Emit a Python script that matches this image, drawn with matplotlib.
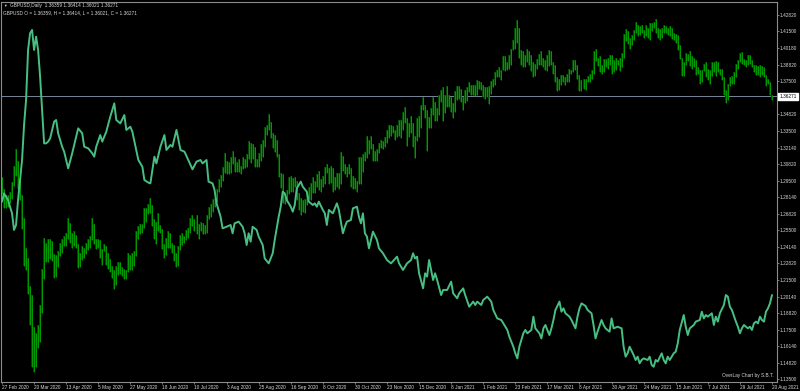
import matplotlib
matplotlib.use("Agg")
import matplotlib.pyplot as plt
import numpy as np

plt.rcParams['font.family'] = ['Liberation Sans', 'DejaVu Sans']

# ---------------- data ----------------
header_1 = "GBPUSD,Daily  1.36359 1.36414 1.36021 1.36271"
header_2 = "GBPUSD O = 1.36359, H = 1.36414, L = 1.36021, C = 1.36271"
footer = "OverLay Chart by S.B.T."
last_close = 1.36271

date_labels = ["27 Feb 2020", "20 Mar 2020", "13 Apr 2020", "5 May 2020", "27 May 2020",
               "18 Jun 2020", "10 Jul 2020", "3 Aug 2020", "25 Aug 2020", "16 Sep 2020",
               "8 Oct 2020", "30 Oct 2020", "23 Nov 2020", "15 Dec 2020", "8 Jan 2021",
               "1 Feb 2021", "23 Feb 2021", "17 Mar 2021", "8 Apr 2021", "30 Apr 2021",
               "24 May 2021", "15 Jun 2021", "7 Jul 2021", "29 Jul 2021", "20 Aug 2021"]
date_label_bars = list(range(0, 385, 16))

price_ticks = [1.42820, 1.41500, 1.40180, 1.38820, 1.37500, 1.34820, 1.33500, 1.32140,
               1.30820, 1.29500, 1.28140, 1.26820, 1.25500, 1.24140, 1.22820, 1.21500,
               1.20140, 1.18820, 1.17500, 1.16140, 1.14820, 1.13500]

highs = [
    1.2975, 1.2880, 1.2830, 1.2830, 1.2855, 1.2935, 1.3070, 1.3200, 1.3110, 1.2960, 1.2830, 1.2650, 1.2410, 1.2330, 1.2100, 1.2030,
    1.1770, 1.1720, 1.1790, 1.1950, 1.2240, 1.2485, 1.2450, 1.2480, 1.2480, 1.2460, 1.2360, 1.2350, 1.2380, 1.2450, 1.2480, 1.2500,
    1.2530, 1.2648, 1.2610, 1.2530, 1.2540, 1.2510, 1.2440, 1.2370, 1.2420, 1.2410, 1.2450, 1.2480, 1.2500, 1.2645, 1.2600, 1.2480,
    1.2480, 1.2470, 1.2400, 1.2440, 1.2420, 1.2370, 1.2320, 1.2260, 1.2230, 1.2260, 1.2290, 1.2295, 1.2250, 1.2240, 1.2230, 1.2365,
    1.2350, 1.2370, 1.2380, 1.2540, 1.2580, 1.2600, 1.2600, 1.2730, 1.2730, 1.2760, 1.2812, 1.2750, 1.2640, 1.2620, 1.2690, 1.2590,
    1.2560, 1.2440, 1.2490, 1.2540, 1.2530, 1.2450, 1.2430, 1.2370, 1.2420, 1.2510, 1.2530, 1.2500, 1.2550, 1.2570, 1.2650, 1.2670,
    1.2640, 1.2670, 1.2600, 1.2620, 1.2610, 1.2590, 1.2670, 1.2740, 1.2760, 1.2800, 1.2810, 1.2880, 1.2960, 1.2995, 1.3060, 1.3170,
    1.3110, 1.3100, 1.3140, 1.3185, 1.3140, 1.3100, 1.3120, 1.3070, 1.3140, 1.3120, 1.3160, 1.3267, 1.3250, 1.3240, 1.3220, 1.3120,
    1.3170, 1.3240, 1.3280, 1.3380, 1.3400, 1.3482, 1.3420, 1.3330, 1.3320, 1.3280, 1.3160, 1.3010, 1.3000, 1.2840, 1.2870, 1.2980,
    1.2990, 1.2970, 1.2980, 1.2950, 1.2850, 1.2810, 1.2790, 1.2800, 1.2850, 1.2900, 1.2930, 1.2980, 1.2950, 1.3000, 1.3030, 1.2960,
    1.2990, 1.3060, 1.3080, 1.3050, 1.3070, 1.3050, 1.2980, 1.3010, 1.3010, 1.3177, 1.3150, 1.3080, 1.3060, 1.3080, 1.3050, 1.2990,
    1.2970, 1.2950, 1.3140, 1.3140, 1.3160, 1.3180, 1.3310, 1.3280, 1.3310, 1.3240, 1.3190, 1.3200, 1.3250, 1.3280, 1.3270, 1.3300,
    1.3360, 1.3400, 1.3400, 1.3390, 1.3360, 1.3400, 1.3440, 1.3440, 1.3500, 1.3540, 1.3450, 1.3410, 1.3470, 1.3410, 1.3310, 1.3450,
    1.3470, 1.3560, 1.3625, 1.3560, 1.3520, 1.3460, 1.3530, 1.3620, 1.3580, 1.3530, 1.3640, 1.3680, 1.3700, 1.3640, 1.3710, 1.3640,
    1.3620, 1.3570, 1.3670, 1.3710, 1.3710, 1.3690, 1.3620, 1.3680, 1.3700, 1.3745, 1.3720, 1.3720, 1.3720, 1.3760, 1.3750, 1.3740,
    1.3720, 1.3700, 1.3700, 1.3710, 1.3750, 1.3770, 1.3820, 1.3840, 1.3860, 1.3840, 1.3950, 1.3950, 1.3900, 1.3960, 1.4010, 1.4080,
    1.4180, 1.4241, 1.4180, 1.4000, 1.3990, 1.3960, 1.4010, 1.3990, 1.3960, 1.3900, 1.3890, 1.3930, 1.3970, 1.3990, 1.3940, 1.3920,
    1.3960, 1.4000, 1.3990, 1.3900, 1.3880, 1.3780, 1.3770, 1.3800, 1.3800, 1.3780, 1.3810, 1.3850, 1.3840, 1.3920, 1.3920, 1.3880,
    1.3800, 1.3760, 1.3770, 1.3770, 1.3790, 1.3810, 1.3840, 1.3990, 1.4010, 1.3940, 1.3950, 1.3880, 1.3930, 1.3930, 1.3940, 1.3960,
    1.3960, 1.3920, 1.3940, 1.3920, 1.3940, 1.3980, 1.4130, 1.4166, 1.4150, 1.4100, 1.4120, 1.4160, 1.4230, 1.4200, 1.4190, 1.4200,
    1.4160, 1.4200, 1.4180, 1.4220, 1.4220, 1.4230, 1.4250, 1.4180, 1.4170, 1.4180, 1.4200, 1.4190, 1.4180, 1.4190, 1.4180, 1.4140,
    1.4130, 1.4120, 1.4040, 1.3940, 1.3900, 1.3980, 1.3970, 1.3990, 1.3950, 1.3940, 1.3920, 1.3860, 1.3840, 1.3840, 1.3890, 1.3900,
    1.3850, 1.3840, 1.3900, 1.3900, 1.3910, 1.3900, 1.3850, 1.3850, 1.3780, 1.3680, 1.3730, 1.3780, 1.3790, 1.3820, 1.3890, 1.3920,
    1.3980, 1.3983, 1.3930, 1.3920, 1.3960, 1.3960, 1.3920, 1.3880, 1.3880, 1.3870, 1.3880, 1.3870, 1.3860, 1.3800, 1.3770, 1.3740, 1.36414,
]

lows = [
    1.2845, 1.2725, 1.2725, 1.2735, 1.2765, 1.2800, 1.2905, 1.2990, 1.2880, 1.2790, 1.2560, 1.2260, 1.2230, 1.2035, 1.1790, 1.1450,
    1.1410, 1.1450, 1.1600, 1.1650, 1.1880, 1.2160, 1.2290, 1.2290, 1.2320, 1.2300, 1.2165, 1.2170, 1.2250, 1.2340, 1.2370, 1.2420,
    1.2420, 1.2480, 1.2450, 1.2410, 1.2420, 1.2410, 1.2247, 1.2250, 1.2310, 1.2330, 1.2360, 1.2390, 1.2410, 1.2470, 1.2440, 1.2400,
    1.2410, 1.2330, 1.2270, 1.2380, 1.2270, 1.2240, 1.2210, 1.2165, 1.2075, 1.2110, 1.2190, 1.2200, 1.2180, 1.2160, 1.2160, 1.2210,
    1.2230, 1.2230, 1.2260, 1.2340, 1.2480, 1.2520, 1.2530, 1.2570, 1.2620, 1.2680, 1.2690, 1.2580, 1.2480, 1.2440, 1.2540, 1.2530,
    1.2400, 1.2330, 1.2350, 1.2410, 1.2410, 1.2370, 1.2300, 1.2252, 1.2260, 1.2390, 1.2430, 1.2450, 1.2470, 1.2490, 1.2530, 1.2580,
    1.2540, 1.2520, 1.2480, 1.2540, 1.2520, 1.2520, 1.2530, 1.2640, 1.2660, 1.2700, 1.2740, 1.2780, 1.2860, 1.2900, 1.2950, 1.3010,
    1.3005, 1.3000, 1.3010, 1.3080, 1.3020, 1.3020, 1.3020, 1.3000, 1.3040, 1.3050, 1.3060, 1.3120, 1.3090, 1.3120, 1.3060, 1.3060,
    1.3060, 1.3110, 1.3140, 1.3220, 1.3320, 1.3360, 1.3290, 1.3210, 1.3180, 1.3140, 1.2980, 1.2890, 1.2770, 1.2760, 1.2780, 1.2840,
    1.2860, 1.2860, 1.2900, 1.2790, 1.2710, 1.2676, 1.2700, 1.2690, 1.2750, 1.2800, 1.2790, 1.2850, 1.2850, 1.2900, 1.2870, 1.2860,
    1.2900, 1.2920, 1.3010, 1.2920, 1.2930, 1.2860, 1.2870, 1.2900, 1.2880, 1.2920, 1.3030, 1.3000, 1.2980, 1.3000, 1.2900, 1.2880,
    1.2880, 1.2854, 1.2920, 1.2920, 1.3020, 1.3110, 1.3130, 1.3160, 1.3200, 1.3110, 1.3110, 1.3110, 1.3170, 1.3210, 1.3200, 1.3220,
    1.3250, 1.3290, 1.3310, 1.3330, 1.3280, 1.3300, 1.3310, 1.3290, 1.3360, 1.3410, 1.3225, 1.3300, 1.3330, 1.3220, 1.3135, 1.3270,
    1.3300, 1.3370, 1.3520, 1.3450, 1.3188, 1.3370, 1.3370, 1.3480, 1.3430, 1.3430, 1.3480, 1.3580, 1.3430, 1.3490, 1.3540, 1.3540,
    1.3500, 1.3450, 1.3500, 1.3600, 1.3610, 1.3580, 1.3520, 1.3570, 1.3590, 1.3660, 1.3640, 1.3640, 1.3630, 1.3640, 1.3690, 1.3680,
    1.3620, 1.3610, 1.3620, 1.3566, 1.3650, 1.3700, 1.3720, 1.3780, 1.3780, 1.3760, 1.3840, 1.3830, 1.3840, 1.3850, 1.3880, 1.4000,
    1.4010, 1.4060, 1.3940, 1.3880, 1.3860, 1.3860, 1.3900, 1.3880, 1.3830, 1.3780, 1.3790, 1.3850, 1.3880, 1.3880, 1.3860, 1.3840,
    1.3830, 1.3870, 1.3880, 1.3810, 1.3740, 1.3670, 1.3680, 1.3720, 1.3740, 1.3720, 1.3740, 1.3740, 1.3810, 1.3820, 1.3840, 1.3770,
    1.3670, 1.3670, 1.3690, 1.3680, 1.3740, 1.3740, 1.3770, 1.3810, 1.3910, 1.3870, 1.3820, 1.3810, 1.3820, 1.3860, 1.3850, 1.3880,
    1.3810, 1.3820, 1.3840, 1.3880, 1.3830, 1.3860, 1.3940, 1.4070, 1.4050, 1.4010, 1.4040, 1.4080, 1.4140, 1.4110, 1.4120, 1.4140,
    1.4100, 1.4110, 1.4100, 1.4080, 1.4150, 1.4180, 1.4140, 1.4100, 1.4080, 1.4100, 1.4140, 1.4140, 1.4120, 1.4110, 1.4090, 1.4080,
    1.4060, 1.4000, 1.3930, 1.3790, 1.3790, 1.3880, 1.3910, 1.3870, 1.3850, 1.3860, 1.3800, 1.3810, 1.3730, 1.3740, 1.3830, 1.3780,
    1.3760, 1.3730, 1.3790, 1.3820, 1.3790, 1.3820, 1.3800, 1.3760, 1.3640, 1.3572, 1.3600, 1.3710, 1.3730, 1.3730, 1.3780, 1.3850,
    1.3900, 1.3890, 1.3880, 1.3860, 1.3880, 1.3890, 1.3860, 1.3820, 1.3800, 1.3800, 1.3780, 1.3800, 1.3780, 1.3710, 1.3730, 1.3640, 1.36021,
]

# overlay instrument (mirrored to the GBPUSD price scale), vertices
overlay_bar = [
    0, 1, 3, 5, 6, 7, 8, 10, 11, 12, 13, 14, 15, 16, 17, 18, 19, 20, 21, 22, 23, 24, 26, 27, 28, 30, 31, 33, 35, 37, 38,
    40, 41, 43, 45, 46, 47, 49, 50, 52, 54, 56, 57, 59, 61, 62, 64, 65, 68, 70, 71, 73, 74, 75, 76, 77, 79,
    81, 82, 84, 85, 87, 88, 89, 91, 94, 95,
    97, 99, 100, 102, 103, 105, 106, 107, 109, 110, 112, 114, 115, 116, 118, 120, 121, 122, 123, 124,
    125, 127, 128, 130, 131, 133, 135, 136, 138, 139, 140, 141, 142, 144, 145, 146, 147, 149, 150, 152,
    153, 155, 156, 157, 158, 160, 161, 162, 163, 165, 167, 168, 170, 171, 172, 174, 175, 177, 178, 179,
    180, 181, 182, 183, 184, 185, 187, 188, 190, 192, 194,
    197, 198, 200, 202, 204, 205, 206, 207, 208, 210, 211, 212, 213, 215, 216, 217, 219, 220, 222, 224,
    225, 227, 228, 230, 231, 233, 235, 236, 237, 239, 240, 242, 244, 245, 247, 249, 250, 252, 253, 255,
    256, 257, 258, 260, 261, 262, 264, 265, 266, 268, 269, 270, 271, 273, 274, 275, 276, 278, 279, 280,
    281, 283, 284, 286, 287, 288, 289, 291,
    292, 294, 295, 296, 297, 299, 300, 301, 303, 304, 305, 307, 309, 310, 311, 312, 313, 315, 316, 317,
    318, 319, 320, 322, 323, 324, 325, 326, 327, 329, 330, 331, 332, 333, 335, 336, 337, 338, 340, 341,
    342, 343, 345, 346, 348, 349, 350, 351, 352, 354, 355, 356, 357, 358, 360, 361, 362, 363, 364, 366,
    367, 368, 369, 370, 372, 373, 374, 375, 376, 377, 378, 379, 380, 381, 382, 383, 384,
]
overlay_val = [
    1.2780, 1.2847, 1.2793, 1.2686, 1.2552, 1.2592, 1.2793, 1.3115, 1.3397, 1.3598, 1.4001, 1.4135, 1.4162, 1.4001, 1.4108, 1.4001, 1.3786, 1.3518, 1.3249, 1.3249, 1.3263, 1.3289, 1.3424, 1.3437, 1.3330, 1.3222, 1.3182, 1.3048, 1.3169, 1.3303, 1.3370,
    1.3330, 1.3222, 1.3209, 1.3169, 1.3142, 1.3222, 1.3316, 1.3263, 1.3343, 1.3464, 1.3571, 1.3437, 1.3410, 1.3477, 1.3357, 1.3383, 1.3343, 1.3115, 1.3061, 1.2954, 1.2933, 1.2927, 1.3035, 1.3142, 1.3088, 1.3222,
    1.3316, 1.3196, 1.3236, 1.3222, 1.3357, 1.3276, 1.3196, 1.3182, 1.3075, 1.3040,
    1.3102, 1.3115, 1.3088, 1.3115, 1.2941, 1.2927, 1.2874, 1.2766, 1.2659, 1.2565, 1.2578, 1.2592, 1.2525, 1.2605, 1.2619, 1.2578, 1.2525, 1.2431, 1.2525, 1.2458,
    1.2578, 1.2552, 1.2498, 1.2431, 1.2323, 1.2283, 1.2364, 1.2471, 1.2659, 1.2739, 1.2860, 1.2847, 1.2793, 1.2739, 1.2699, 1.2753, 1.2887, 1.2941, 1.2900, 1.2860,
    1.2780, 1.2753, 1.2766, 1.2739, 1.2780, 1.2713, 1.2686, 1.2592, 1.2713, 1.2686, 1.2766, 1.2713, 1.2525, 1.2578, 1.2619, 1.2632, 1.2726, 1.2739, 1.2659, 1.2605,
    1.2686, 1.2525, 1.2498, 1.2404, 1.2471, 1.2538, 1.2471, 1.2404, 1.2364, 1.2310, 1.2283,
    1.2337, 1.2283, 1.2230, 1.2283, 1.2310, 1.2364, 1.2323, 1.2337, 1.2203, 1.2082, 1.2203, 1.2176, 1.2310, 1.2149, 1.2203, 1.2149, 1.2028, 1.2069, 1.2069, 1.2136,
    1.2042, 1.2002, 1.2042, 1.2082, 1.2028, 1.1934, 1.1975, 1.1948, 1.1975, 1.1948, 1.1988, 1.2015, 1.1975, 1.1908, 1.1840, 1.1827, 1.1800, 1.1747, 1.1693, 1.1612,
    1.1559, 1.1518, 1.1612, 1.1720, 1.1747, 1.1720, 1.1747, 1.1854, 1.1760, 1.1720, 1.1679, 1.1760, 1.1787, 1.1706, 1.1760, 1.1827, 1.1908, 1.1975, 1.1894, 1.1921,
    1.1881, 1.1854, 1.1827, 1.1760, 1.1854, 1.1921, 1.1961, 1.1940,
    1.1908, 1.1881, 1.1787, 1.1679, 1.1733, 1.1827, 1.1787, 1.1760, 1.1733, 1.1840, 1.1760, 1.1773, 1.1760, 1.1612, 1.1532, 1.1559, 1.1612, 1.1545, 1.1505, 1.1532,
    1.1478, 1.1505, 1.1518, 1.1505, 1.1532, 1.1465, 1.1451, 1.1505, 1.1492, 1.1559, 1.1505, 1.1478, 1.1532, 1.1505, 1.1559, 1.1572, 1.1639, 1.1747, 1.1867, 1.1773,
    1.1706, 1.1760, 1.1787, 1.1814, 1.1827, 1.1894, 1.1840, 1.1867, 1.1854, 1.1881, 1.1787, 1.1854, 1.1814, 1.1881, 1.1948, 1.2028, 1.2015, 1.1934, 1.1908, 1.1814,
    1.1773, 1.1720, 1.1760, 1.1787, 1.1760, 1.1773, 1.1747, 1.1800, 1.1814, 1.1800, 1.1854, 1.1827, 1.1814, 1.1894, 1.1921, 1.1961, 1.2028,
]

assert len(highs) == len(lows) == 385, (len(highs), len(lows))
assert len(overlay_bar) == len(overlay_val), (len(overlay_bar), len(overlay_val))

# ---------------- style ----------------
BG = "black"
BAR_DARK = "#004800"
BAR_COLOR = "#009c00"
LINE_COLOR = "#48bf82"
FRAME = "#8c8c8c"
TEXT = "#d8d8d8"
FS = 3.4

W, H = 800, 391
fig = plt.figure(figsize=(W / 100, H / 100), dpi=100, facecolor=BG)
ax = fig.add_axes([1 / W, 9 / H, 776 / W, 380 / H], facecolor=BG)

x = np.arange(len(highs))
ax.vlines(x, lows, highs, color=BAR_DARK, lw=1.4, zorder=2)
ax.vlines(x, lows, highs, color=BAR_COLOR, lw=0.7, zorder=2.5)
ax.plot(overlay_bar, overlay_val, color=LINE_COLOR, lw=1.4, zorder=3,
        solid_joinstyle="round", solid_capstyle="round")
ax.axhline(last_close, color="#778899", lw=0.7, zorder=1)

ax.set_xlim(-0.5, 386.5)
ax.set_ylim(1.1328, 1.4387)

for sp in ax.spines.values():
    sp.set_color(FRAME)
    sp.set_linewidth(0.8)

ax.yaxis.tick_right()
ax.set_yticks(price_ticks)
ax.set_yticklabels([f"{v:.5f}" for v in price_ticks])
ax.set_xticks(date_label_bars)
ax.set_xticklabels(date_labels, ha="left")
ax.tick_params(axis="both", colors=FRAME, labelcolor=TEXT, labelsize=FS,
               length=1.5, width=0.6, pad=0.4)

ax.annotate(f"{last_close:.5f}", xy=(1.0, last_close), xycoords=("axes fraction", "data"),
            xytext=(1.6, 0), textcoords="offset points", ha="left", va="center",
            fontsize=FS, color="black",
            bbox=dict(boxstyle="square,pad=0.25", fc="white", ec="white"))

fig.text(3.5 / W, 1 - 5.5 / H, "▼", fontsize=2.6, color=TEXT, va="center", ha="left")
fig.text(10 / W, 1 - 5.5 / H, header_1, fontsize=FS, color=TEXT, va="center", ha="left")
fig.text(3 / W, 1 - 13 / H, header_2, fontsize=FS, color=TEXT, va="center", ha="left")
fig.text(774 / W, 1 - 375 / H, footer, fontsize=FS, color=TEXT, va="center", ha="right")

fig.savefig("out.png", dpi=100, facecolor=BG)
